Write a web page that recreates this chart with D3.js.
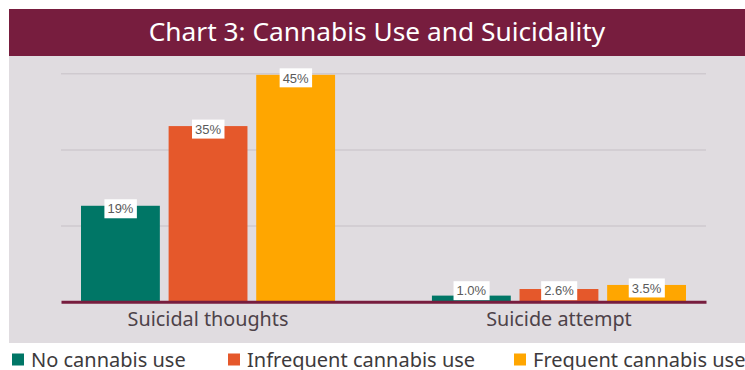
<!DOCTYPE html>
<html lang="en">
<head>
<meta charset="UTF-8">
<title>Chart 3</title>
<script src="https://cdn.jsdelivr.net/npm/d3@7"></script>
<style>
    body { margin: 0; background: #fff; }
    svg { display: block; }
    .cat text { font-family: "Noto Sans", sans-serif; font-size: 19.8px; fill: #4d4249; }
    .lbl { font-family: "Liberation Sans", Arial, sans-serif; font-size: 13px; fill: #5a5a5a; }
    .legend text { font-family: "Noto Sans", sans-serif; font-size: 20px; fill: #3d3a3c; }
</style>
</head>
<body>
<div id="fig"></div>
<script>
    // data
    const categories = ["Suicidal thoughts", "Suicide attempt"]
    const series = ["No cannabis use", "Infrequent cannabis use", "Frequent cannabis use"]
    const noUse = [18.9, 1.2]
    const infrequentUse = [34.6, 2.5]
    const frequentUse = [44.7, 3.3]
    const labelsNo = ["19%", "1.0%"]
    const labelsInfrequent = ["35%", "2.6%"]
    const labelsFrequent = ["45%", "3.5%"]
    const gridTicks = [15, 30, 45]
    const colors = ["#007666", "#E5582B", "#FFA600"]

    const W = 745, H = 370
    const svg = d3.select("#fig").append("svg")
        .attr("width", W).attr("height", H)

    // title band + panel
    svg.append("rect").attr("x", 9).attr("y", 9).attr("width", W - 9).attr("height", 47).attr("fill", "#771D3E")
    svg.append("rect").attr("x", 9).attr("y", 56).attr("width", W - 9).attr("height", 287).attr("fill", "#E0DCE0")
    svg.append("text")
        .attr("x", 377).attr("y", 41)
        .attr("text-anchor", "middle")
        .style("font-family", "'Noto Sans', sans-serif")
        .style("font-size", "26.3px")
        .style("fill", "#fff")
        .text("Chart 3: Cannabis Use and Suicidality")

    const left = 61, right = 706
    const y = d3.scaleLinear().domain([0, 45]).range([301.7, 73.3])
    const x0 = d3.scaleBand().domain(categories).range([left, right]).paddingInner(0.276).paddingOuter(0.057)
    const x1 = d3.scaleBand().domain(series).range([0, x0.bandwidth()]).paddingInner(0.1)

    // gridlines
    svg.append("g")
        .attr("transform", `translate(${left},0)`)
        .call(d3.axisLeft(y).tickValues(gridTicks).tickSize(-(right - left)).tickFormat(""))
        .call(g => g.select(".domain").remove())
        .call(g => g.selectAll("line").attr("stroke", "#CFCACF").attr("stroke-width", 1.5))

    const rows = categories.map((c, i) => ({
        cat: c,
        vals: [
            {s: series[0], v: noUse[i], l: labelsNo[i], c: colors[0]},
            {s: series[1], v: infrequentUse[i], l: labelsInfrequent[i], c: colors[1]},
            {s: series[2], v: frequentUse[i], l: labelsFrequent[i], c: colors[2]}
        ]
    }))

    const groups = svg.selectAll(".grp").data(rows).enter().append("g")
        .attr("class", "grp")
        .attr("transform", d => `translate(${x0(d.cat)},0)`)

    groups.selectAll("rect").data(d => d.vals).enter().append("rect")
        .attr("x", d => x1(d.s))
        .attr("y", d => y(d.v))
        .attr("width", x1.bandwidth())
        .attr("height", d => y(0) - y(d.v))
        .attr("fill", d => d.c)

    // baseline + category labels
    svg.append("g")
        .attr("class", "cat")
        .attr("transform", `translate(0,${y(0)})`)
        .call(d3.axisBottom(x0).tickSize(0).tickSizeOuter(0))
        .call(g => g.select(".domain").attr("stroke", "#771D3E").attr("stroke-width", 3))
        .call(g => g.selectAll("text").attr("y", 24).attr("dy", 0))

    // value labels in white boxes
    const lbls = groups.selectAll(".lblg").data(d => d.vals).enter().append("g").attr("class", "lblg")
    lbls.each(function (d) {
        const g = d3.select(this)
        const cx = x1(d.s) + x1.bandwidth() / 2
        const cy = Math.min(y(d.v) + 3, y(0) - 11)
        const t = g.append("text").attr("class", "lbl")
            .attr("x", cx).attr("y", cy).attr("dy", "0.36em")
            .attr("text-anchor", "middle").text(d.l)
        const bb = t.node().getBBox()
        g.insert("rect", "text")
            .attr("x", bb.x - 3).attr("y", cy - 9.5)
            .attr("width", bb.width + 6).attr("height", 19)
            .attr("fill", "#fff")
    })

    // legend
    const legX = [12, 228, 514]
    const leg = svg.append("g").attr("class", "legend")
        .selectAll("g").data(series).enter().append("g")
        .attr("transform", (d, i) => `translate(${legX[i]},353.5)`)
    leg.append("rect").attr("width", 12).attr("height", 12).attr("fill", (d, i) => colors[i])
    leg.append("text").attr("x", 19).attr("y", 13.5).text(d => d)
</script>
</body>
</html>
